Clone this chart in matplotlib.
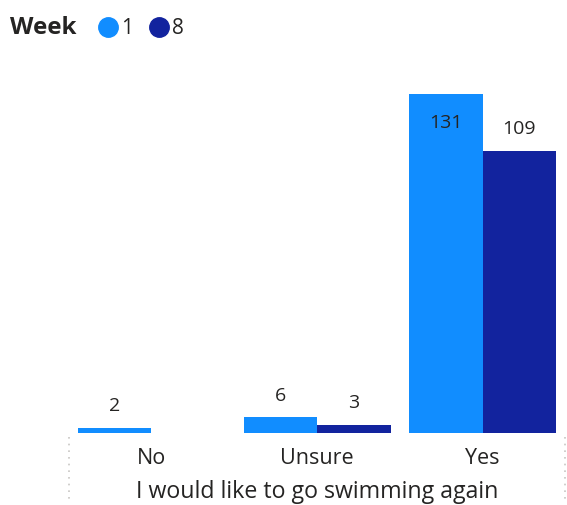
import matplotlib
matplotlib.use("Agg")
import matplotlib.pyplot as plt
from matplotlib.lines import Line2D
import numpy as np

plt.rcParams["font.family"] = ["Open Sans", "DejaVu Sans"]

# survey answers per week
categories = ["No", "Unsure", "Yes"]
weeks = ["1", "8"]
week1 = [2, 6, 131]
week8 = [0, 3, 109]
colors = ["#118DFF", "#12239E"]
text_color = "#252423"

fig = plt.figure(figsize=(5.67, 5.06), dpi=100)
ax = fig.add_axes([0.1212, 0.1423, 0.8758, 0.6700])

x = np.arange(len(categories))
width = 0.444
series = [week1, week8]
top = max(max(s) for s in series)
for i, (vals, col) in enumerate(zip(series, colors)):
    pos = x + (i - 0.5) * width
    ax.bar(pos, vals, width=width, color=col, linewidth=0)
    for p, v in zip(pos, vals):
        if v == 0:
            continue
        # the tallest bar has no room above, so its label sits inside
        dy = -20 if v == top else 16.5
        ax.annotate(str(v), (p, v), xytext=(0, dy), textcoords="offset points",
                    ha="center", va="center", fontsize=14, color=text_color)

ax.set_xlim(-0.5, 2.5)
ax.set_ylim(0, top)
ax.set_xticks(x)
ax.set_xticklabels(categories, fontsize=15.5, color=text_color)
ax.tick_params(axis="x", length=0, pad=10)
ax.set_yticks([])
for s in ax.spines.values():
    s.set_visible(False)
ax.set_xlabel("I would like to go swimming again", fontsize=16.7,
              color=text_color, labelpad=8)

# dotted separators at the category axis edges
for xe in (0, 1):
    ax.add_line(Line2D([xe, xe], [-0.012, -0.195], transform=ax.transAxes,
                       clip_on=False, color="#C8C6C4", linestyle=(0, (1, 3)),
                       linewidth=1.2))

# legend
ly = 1 - 28 / 506
fig.text(10 / 567, ly, "Week", fontsize=17.5, fontweight="bold",
         color=text_color, va="center", ha="left")
for cx, lab, col in [(108, weeks[0], colors[0]), (159, weeks[1], colors[1])]:
    fig.add_artist(Line2D([cx / 567], [ly], marker="o", markersize=14,
                          color=col, linestyle="none", transform=fig.transFigure))
    fig.text((cx + 13) / 567, ly, lab, fontsize=15, color=text_color,
             va="center", ha="left")

fig.savefig("out.png", dpi=100)
